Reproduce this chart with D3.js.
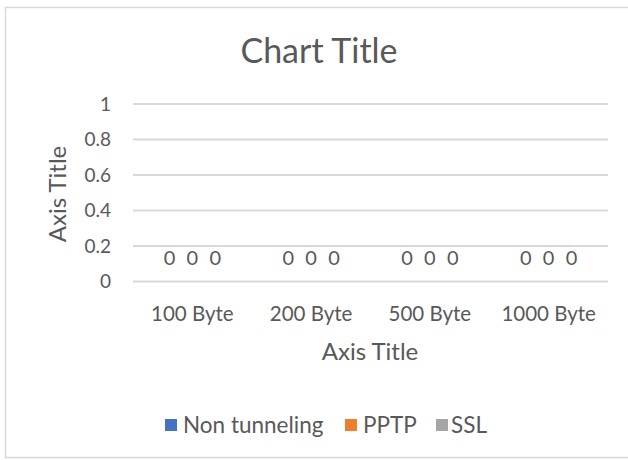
<!DOCTYPE html>
<html>
<head>
<meta charset="utf-8">
<script src="https://cdn.jsdelivr.net/npm/d3@7"></script>
<style>
  html, body { margin: 0; padding: 0; background: #fff; }
  svg { display: block; }
  text { font-family: Lato, "Open Sans", sans-serif; fill: #595959; }
</style>
</head>
<body>
<svg id="chart" width="628" height="460"></svg>
<script>
const categories = ["100 Byte", "200 Byte", "500 Byte", "1000 Byte"];
const seriesNames = ["Non tunneling", "PPTP", "SSL"];
const nonTunneling = [0, 0, 0, 0];
const pptp = [0, 0, 0, 0];
const ssl = [0, 0, 0, 0];
const yTicks = [0, 0.2, 0.4, 0.6, 0.8, 1];
const colors = ["#4472C4", "#ED7D31", "#A5A5A5"];

const seriesValues = [nonTunneling, pptp, ssl];
const svg = d3.select("#chart");

// chart border
svg.append("rect").attr("x", 5.5).attr("y", 7.5).attr("width", 640).attr("height", 450)
  .attr("fill", "#fff").attr("stroke", "#D9D9D9").attr("stroke-width", 1.5);

const plot = { left: 133, right: 608, top: 104, bottom: 281.5 };

const x0 = d3.scaleBand().domain(categories).range([plot.left, plot.right]).paddingInner(0).paddingOuter(0);
const x1 = d3.scaleBand().domain(seriesNames).range([0, x0.bandwidth()]).paddingInner(0).paddingOuter(2.19 / 2);
const y = d3.scaleLinear().domain([0, 1]).range([plot.bottom, plot.top]);

// gridlines
svg.append("g").selectAll("line").data(yTicks).join("line")
  .attr("x1", plot.left).attr("x2", plot.right)
  .attr("y1", d => y(d)).attr("y2", d => y(d))
  .attr("stroke", "#D9D9D9").attr("stroke-width", 2);

// y axis labels
const yAxis = d3.axisLeft(y).tickValues(yTicks).tickSize(0).tickPadding(0).tickFormat(d3.format("~g"));
const yg = svg.append("g").attr("transform", `translate(111,0)`).call(yAxis);
yg.select(".domain").remove();
yg.selectAll("text").style("font-size", "19px").attr("fill", "#595959").attr("dy", "0.34em")
  .style("font-family", "Lato, sans-serif");

// x axis labels
const xAxis = d3.axisBottom(x0).tickSize(0).tickPadding(0);
const xg = svg.append("g").attr("transform", `translate(0,${plot.bottom})`).call(xAxis);
xg.select(".domain").remove();
xg.selectAll("text").style("font-size", "20.5px").attr("fill", "#595959").attr("y", 39.5).attr("dy", "0")
  .style("font-family", "Lato, sans-serif");

// bars and labels
const groups = svg.append("g").selectAll("g").data(categories).join("g")
  .attr("transform", d => `translate(${x0(d)},0)`);
groups.each(function(cat, ci) {
  const g = d3.select(this);
  const data = seriesNames.map((s, si) => ({ s, v: seriesValues[si][ci], c: colors[si] }));
  g.selectAll("rect").data(data).join("rect")
    .attr("x", d => x1(d.s)).attr("width", x1.bandwidth())
    .attr("y", d => y(d.v)).attr("height", d => y(0) - y(d.v))
    .attr("fill", d => d.c);
  g.selectAll("text").data(data).join("text")
    .attr("x", d => x1(d.s) + x1.bandwidth() / 2)
    .attr("y", d => y(d.v) - 17)
    .attr("text-anchor", "middle")
    .style("font-size", "20px")
    .text(d => d3.format("~g")(d.v));
});

// title
svg.append("text").attr("x", 319).attr("y", 63).attr("text-anchor", "middle")
  .style("font-size", "34px").text("Chart Title");

// axis titles
svg.append("text").attr("x", 370).attr("y", 360).attr("text-anchor", "middle")
  .style("font-size", "24px").text("Axis Title");
svg.append("text").attr("transform", "translate(66,194) rotate(-90)").attr("text-anchor", "middle")
  .style("font-size", "24px").text("Axis Title");

// legend
const legendItems = [
  { name: seriesNames[0], color: colors[0], x: 165, tx: 183 },
  { name: seriesNames[1], color: colors[1], x: 345, tx: 363 },
  { name: seriesNames[2], color: colors[2], x: 436, tx: 451 }
];
const lg = svg.append("g").selectAll("g").data(legendItems).join("g")
  .attr("transform", d => `translate(${d.x},425)`);
lg.append("rect").attr("x", 0).attr("y", -6).attr("width", 12).attr("height", 12).attr("fill", d => d.color);
lg.append("text").attr("x", d => d.tx - d.x).attr("y", 0).attr("dy", "0.35em").style("font-size", "22.5px").text(d => d.name);
</script>
</body>
</html>
